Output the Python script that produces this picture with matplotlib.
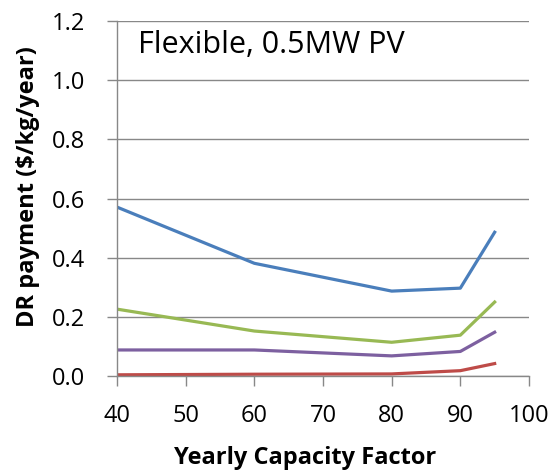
import matplotlib
matplotlib.use('Agg')
import matplotlib.pyplot as plt

plt.rcParams['font.family'] = ['Open Sans', 'DejaVu Sans']

# data
capacity_factor = [40, 60, 80, 90, 95]
series_blue = [0.571, 0.381, 0.287, 0.297, 0.486]
series_green = [0.226, 0.152, 0.114, 0.138, 0.250]
series_purple = [0.088, 0.088, 0.068, 0.083, 0.148]
series_red = [0.004, 0.006, 0.007, 0.018, 0.042]

fig = plt.figure(figsize=(5.53, 4.72), dpi=100)
ax = fig.add_axes([0.2116, 0.2034, 0.745, 0.752])

lw = 2.3
ax.plot(capacity_factor, series_blue, color='#4A7EBB', lw=lw)
ax.plot(capacity_factor, series_green, color='#98B954', lw=lw)
ax.plot(capacity_factor, series_purple, color='#7D60A0', lw=lw)
ax.plot(capacity_factor, series_red, color='#BE4B48', lw=lw)

ax.set_xlim(40, 100)
ax.set_ylim(0, 1.2)
ax.set_xticks(range(40, 101, 10))
ax.set_yticks([0, 0.2, 0.4, 0.6, 0.8, 1.0, 1.2])
ax.set_yticklabels(['0.0', '0.2', '0.4', '0.6', '0.8', '1.0', '1.2'])

ax.grid(axis='y', color='#888888', lw=1)
ax.set_axisbelow(True)
for s in ['top', 'right']:
    ax.spines[s].set_visible(False)
for s in ['left', 'bottom']:
    ax.spines[s].set_color('#888888')
    ax.spines[s].set_linewidth(1)
ax.tick_params(axis='both', colors='#888888', length=7, width=1, labelsize=17,
               labelcolor='black')
ax.tick_params(axis='y', pad=16)
ax.tick_params(axis='x', pad=13)

ax.set_xlabel('Yearly Capacity Factor', fontsize=17, fontweight='bold',
              va='center', ha='center')
ax.set_ylabel('DR payment ($/kg/year)', fontsize=17, fontweight='bold',
              va='center', ha='center')
ax.xaxis.set_label_coords(0.456, -0.231)
ax.yaxis.set_label_coords(-0.216, 0.535)

ax.text(0.051, 0.91, 'Flexible, 0.5MW PV', transform=ax.transAxes,
        fontsize=22, va='baseline', ha='left')

fig.savefig('out.png', dpi=100)
